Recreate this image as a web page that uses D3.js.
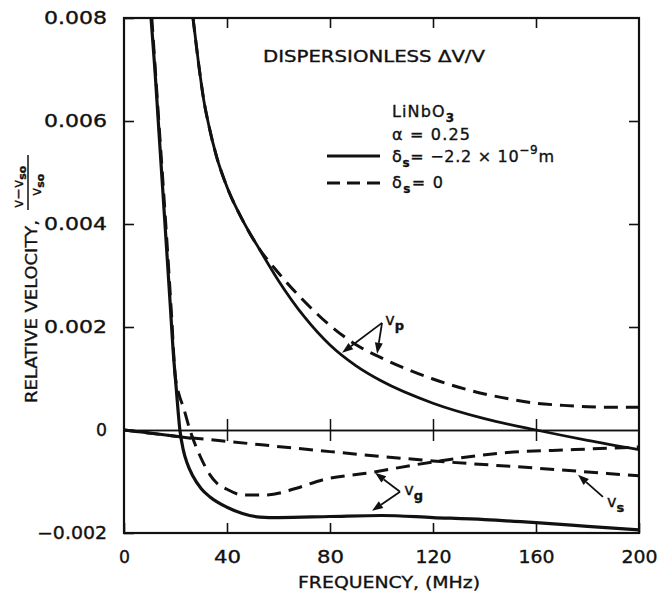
<!DOCTYPE html>
<html><head><meta charset="utf-8">
<script src="https://cdn.jsdelivr.net/npm/d3@7"></script>
<style>
body{margin:0;background:#fff}
svg{display:block}
text{font-family:"DejaVu Sans",sans-serif;fill:#111;stroke:#111;stroke-width:0.35px}
</style>
</head><body><svg id="c" width="658" height="595"></svg>
<script>
// ---------- data ----------
const xTicks = [0, 40, 80, 120, 160, 200];
const xTickLabels = ["0", "40", "80", "120", "160", "200"];
const yTicks = [-0.002, 0, 0.002, 0.004, 0.006, 0.008];
const yTickLabels = ["\u22120.002", "0", "0.002", "0.004", "0.006", "0.008"];

// group velocity, delta_s = -2.2e-9 m (solid)
const vgSolidF = [10.5, 12, 13.3, 15, 16.7, 18, 19, 20.3, 21.7, 23, 24.5, 26.8, 30, 33.4, 40, 46, 52.8, 60, 80, 100, 120, 140, 160, 180, 200];
const vgSolidV = [0.008, 0.0070, 0.0060, 0.0047, 0.0034, 0.0024, 0.0016, 0.0008, 0, -0.00038, -0.00064, -0.0009, -0.00114, -0.0013, -0.0015, -0.00162, -0.00169, -0.0017, -0.00168, -0.00166, -0.0017, -0.00174, -0.0018, -0.00187, -0.00194];
// group velocity, delta_s = 0 (dashed)
const vgDashF = [10.8, 13.5, 17, 18.5, 19.8, 21.3, 23, 25.6, 29.5, 33.4, 36, 40, 46, 55.5, 67, 77, 94, 120, 146, 175, 200];
const vgDashV = [0.008, 0.006, 0.0034, 0.0022, 0.0011, 0.0007, 0.00045, 0, -0.0005, -0.00087, -0.00103, -0.00115, -0.00126, -0.00126, -0.00113, -0.00097, -0.00084, -0.00062, -0.00045, -0.00038, -0.00033];
// phase velocity, solid
const vpSolidF = [26.8, 29, 31, 33, 36, 40, 46, 52, 60, 70, 80, 90, 100, 120, 140, 160, 180, 200];
const vpSolidV = [0.008, 0.0071, 0.0064, 0.0059, 0.0053, 0.00472, 0.00408, 0.00356, 0.0029, 0.0022, 0.00165, 0.00125, 0.00095, 0.00052, 0.00022, 0, -0.0002, -0.00038];
// phase velocity, dashed
const vpDashF = [26.8, 29, 31, 33, 36, 40, 46, 52, 60, 70, 80, 90, 100, 110, 120, 130, 140, 150, 160, 170, 180, 190, 200];
const vpDashV = [0.008, 0.0071, 0.0064, 0.0059, 0.0053, 0.00472, 0.00408, 0.00356, 0.00305, 0.0025, 0.00203, 0.00166, 0.0014, 0.00118, 0.00099, 0.00083, 0.0007, 0.0006, 0.00052, 0.00048, 0.00045, 0.00044, 0.00044];
// surface velocity
const vsDashF = [0, 20, 40, 80, 120, 160, 200];
const vsDashV = [0, -0.00012, -0.00022, -0.00042, -0.0006, -0.00074, -0.00089];
const vsSolidF = [0, 10, 20, 26];
const vsSolidV = [0, -0.00006, -0.00012, -0.00016];

// annotation arrows in data units
const vpArrow = {label: [101.5, 0.00204], vertex: [100.2, 0.00208], tips: [[84.7, 0.0015], [98.3, 0.00148]], sub: "p"};
const vgArrow = {label: [108.8, -0.00127], vertex: [107.2, -0.0012], tips: [[97.5, -0.00083], [96.3, -0.00157]], sub: "g"};
const vsArrow = {label: [187.6, -0.0015], vertex: [186, -0.0013], tips: [[176.3, -0.00087]], sub: "s"};

// ---------- scales ----------
const svg = d3.select("#c");
const x = d3.scaleLinear().domain([0, 200]).range([124, 639]);
const y = d3.scaleLinear().domain([-0.002, 0.008]).range([533, 18]);

// ---------- axes ----------
const gBottom = svg.append("g").attr("transform", `translate(0,${y(-0.002)})`)
  .call(d3.axisBottom(x).tickValues(xTicks).tickSize(-10).tickSizeOuter(0).tickPadding(18)
    .tickFormat((d, i) => xTickLabels[i]));
gBottom.select(".domain").remove();
gBottom.selectAll(".tick line").attr("stroke", "#111").attr("stroke-width", 1.6);
gBottom.selectAll("text").attr("font-size", 17).attr("fill", "#111").attr("font-family", "DejaVu Sans")
  .attr("textLength", (d, i) => [11, 27, 27, 36, 36, 36][i]).attr("lengthAdjust", "spacingAndGlyphs");

const gLeft = svg.append("g").attr("transform", `translate(${x(0)},0)`)
  .call(d3.axisLeft(y).tickValues(yTicks).tickSize(-10).tickSizeOuter(0).tickPadding(17)
    .tickFormat((d, i) => yTickLabels[i]));
gLeft.select(".domain").remove();
gLeft.selectAll(".tick line").attr("stroke", "#111").attr("stroke-width", 1.6);
gLeft.selectAll("text").attr("font-size", 17).attr("fill", "#111").attr("font-family", "DejaVu Sans")
  .attr("textLength", (d, i) => [70, 11, 63, 63, 63, 63][i]).attr("lengthAdjust", "spacingAndGlyphs");

const gTop = svg.append("g").attr("transform", `translate(0,${y(0.008)})`)
  .call(d3.axisTop(x).tickValues([40, 80, 120, 160]).tickSize(-10).tickSizeOuter(0).tickFormat(""));
gTop.select(".domain").remove();
gTop.selectAll(".tick line").attr("stroke", "#111").attr("stroke-width", 1.6);

const gRight = svg.append("g").attr("transform", `translate(${x(200)},0)`)
  .call(d3.axisRight(y).tickValues([0.002, 0.004, 0.006]).tickSize(-10).tickSizeOuter(0).tickFormat(""));
gRight.select(".domain").remove();
gRight.selectAll(".tick line").attr("stroke", "#111").attr("stroke-width", 1.6);

// zero line with crossing ticks
const z1 = svg.append("g").attr("transform", `translate(0,${y(0)})`)
  .call(d3.axisBottom(x).tickValues([40, 80, 120, 160]).tickSize(11).tickSizeOuter(0).tickFormat(""));
const z2 = svg.append("g").attr("transform", `translate(0,${y(0)})`)
  .call(d3.axisTop(x).tickValues([40, 80, 120, 160]).tickSize(11).tickSizeOuter(0).tickFormat(""));
[z1, z2].forEach(g => { g.selectAll("line,path").attr("stroke", "#111").attr("stroke-width", 1.5); });

// frame
svg.append("rect").attr("x", x(0)).attr("y", y(0.008))
  .attr("width", x(200) - x(0)).attr("height", y(-0.002) - y(0.008))
  .attr("fill", "none").attr("stroke", "#111").attr("stroke-width", 2.2);

// ---------- curves ----------
svg.append("clipPath").attr("id", "pc").append("rect")
  .attr("x", x(0)).attr("y", y(0.008)).attr("width", x(200) - x(0)).attr("height", y(-0.002) - y(0.008));
const line = d3.line().x(d => x(d[0])).y(d => y(d[1])).curve(d3.curveMonotoneX);
const curves = svg.append("g").attr("clip-path", "url(#pc)");
function draw(F, V, dashed, w) {
  curves.append("path").datum(F.map((f, i) => [f, V[i]]))
    .attr("d", line).attr("fill", "none").attr("stroke", "#111")
    .attr("stroke-width", w).attr("stroke-dasharray", dashed ? "14,8" : null);
}
draw(vsSolidF, vsSolidV, false, 3);
draw(vsDashF, vsDashV, true, 3);
draw(vgDashF, vgDashV, true, 3);
draw(vgSolidF, vgSolidV, false, 3.2);
draw(vpDashF, vpDashV, true, 3);
draw(vpSolidF, vpSolidV, false, 2.8);

// ---------- annotations ----------
function arrowAnno(a) {
  const vx = x(a.vertex[0]), vy = y(a.vertex[1]);
  a.tips.forEach(t => {
    const tx = x(t[0]), ty = y(t[1]);
    const ang = Math.atan2(ty - vy, tx - vx);
    const L = 11, W = 4;
    const bx = tx - L * Math.cos(ang), by = ty - L * Math.sin(ang);
    svg.append("line").attr("x1", vx).attr("y1", vy).attr("x2", bx).attr("y2", by)
      .attr("stroke", "#111").attr("stroke-width", 1.8);
    const px = -Math.sin(ang) * W, py = Math.cos(ang) * W;
    svg.append("path").attr("d", `M${tx},${ty}L${bx + px},${by + py}L${bx - px},${by - py}Z`).attr("fill", "#111");
  });
  const t = svg.append("text").attr("x", x(a.label[0])).attr("y", y(a.label[1])).attr("font-size", 16);
  t.append("tspan").text("v");
  t.append("tspan").attr("dy", 5).attr("font-size", 13).attr("font-weight", "bold").text(a.sub);
}
arrowAnno(vpArrow);
arrowAnno(vgArrow);
arrowAnno(vsArrow);

// ---------- text ----------
svg.append("text").attr("x", 263).attr("y", 62).attr("font-size", 16)
  .attr("textLength", 222).attr("lengthAdjust", "spacingAndGlyphs").text("DISPERSIONLESS  \u0394V/V");

const t1 = svg.append("text").attr("x", 392).attr("y", 117).attr("font-size", 16)
  .attr("textLength", 62).attr("lengthAdjust", "spacing");
t1.append("tspan").text("LiNbO");
t1.append("tspan").attr("dy", 5).attr("font-size", 12).attr("font-weight", "bold").text("3");

svg.append("text").attr("x", 392).attr("y", 140).attr("font-size", 16)
  .attr("textLength", 78).attr("lengthAdjust", "spacing").text("\u03b1 = 0.25");

svg.append("line").attr("x1", 327).attr("x2", 380).attr("y1", 156).attr("y2", 156)
  .attr("stroke", "#111").attr("stroke-width", 3.2);
const t2 = svg.append("text").attr("x", 392).attr("y", 162).attr("font-size", 16)
  .attr("textLength", 162).attr("lengthAdjust", "spacing");
t2.append("tspan").text("\u03b4");
t2.append("tspan").attr("dy", 5).attr("font-size", 12).attr("font-weight", "bold").text("s");
t2.append("tspan").attr("dy", -5).text("= \u22122.2 \u00d7 10");
t2.append("tspan").attr("dy", -8).attr("font-size", 12).text("\u22129");
t2.append("tspan").attr("dy", 8).text("m");

svg.append("line").attr("x1", 327).attr("x2", 380).attr("y1", 183).attr("y2", 183)
  .attr("stroke", "#111").attr("stroke-width", 3).attr("stroke-dasharray", "13,7");
const t3 = svg.append("text").attr("x", 392).attr("y", 188).attr("font-size", 16)
  .attr("textLength", 51).attr("lengthAdjust", "spacing");
t3.append("tspan").text("\u03b4");
t3.append("tspan").attr("dy", 5).attr("font-size", 12).attr("font-weight", "bold").text("s");
t3.append("tspan").attr("dy", -5).text("= 0");

// x label
svg.append("text").attr("x", 298).attr("y", 588).attr("font-size", 16)
  .attr("textLength", 182).attr("lengthAdjust", "spacingAndGlyphs").text("FREQUENCY, (MHz)");

// y label (rotated)
const yl = svg.append("g").attr("transform", "rotate(-90)");
yl.append("text").attr("x", -403).attr("y", 37).attr("font-size", 16)
  .attr("textLength", 183).attr("lengthAdjust", "spacingAndGlyphs").text("RELATIVE  VELOCITY,");
const num = yl.append("text").attr("x", -208).attr("y", 23).attr("font-size", 14);
num.append("tspan").text("v\u2212v");
num.append("tspan").attr("dy", 3).attr("font-size", 11).attr("font-weight", "bold").text("so");
yl.append("line").attr("x1", -210).attr("x2", -155).attr("y1", 28).attr("y2", 28)
  .attr("stroke", "#111").attr("stroke-width", 1.5);
const den = yl.append("text").attr("x", -196).attr("y", 41).attr("font-size", 14);
den.append("tspan").text("v");
den.append("tspan").attr("dy", 3).attr("font-size", 11).attr("font-weight", "bold").text("so");
</script>
</body></html>
